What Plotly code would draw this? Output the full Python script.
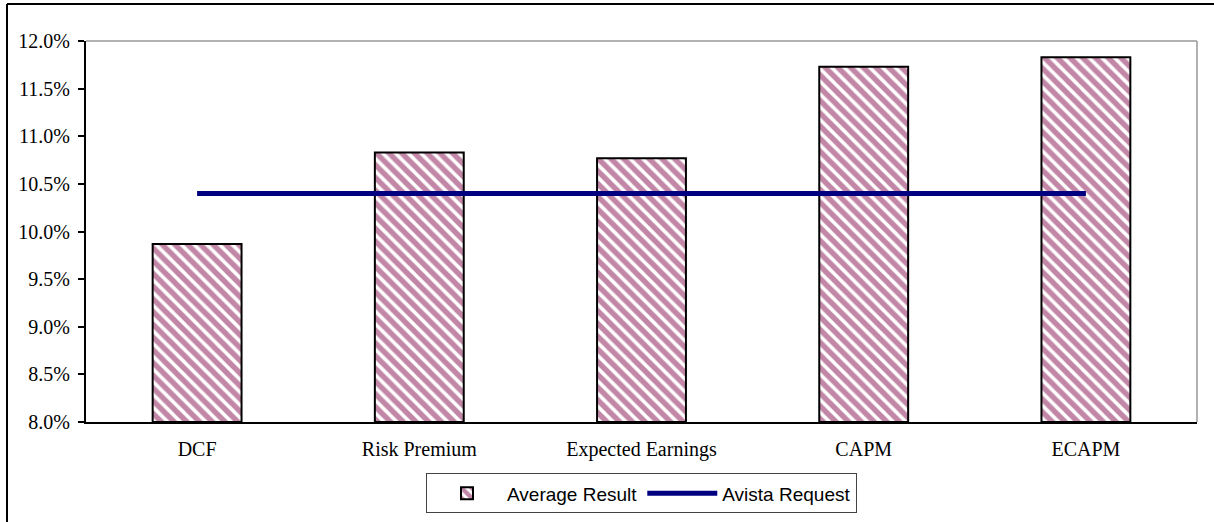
import plotly.graph_objects as go

categories = ["DCF", "Risk Premium", "Expected Earnings", "CAPM", "ECAPM"]
average_result = [9.87, 10.83, 10.77, 11.73, 11.83]
avista_request = [10.40, 10.40, 10.40, 10.40, 10.40]
y_ticks = [8.0, 8.5, 9.0, 9.5, 10.0, 10.5, 11.0, 11.5, 12.0]

W, H = 1214, 522
L, R, T, B = 86, 17, 41, 100
SERIF = "Liberation Serif, Times New Roman, serif"
SANS = "Liberation Sans, Arial, sans-serif"

fig = go.Figure()
fig.add_trace(go.Bar(
    x=categories, y=[v - 8.0 for v in average_result], base=8.0,
    name="Average Result",
    marker=dict(
        color="white",
        line=dict(color="black", width=2),
        pattern=dict(shape="\\", fgcolor="#85104f", bgcolor="white",
                     size=9, solidity=0.6, fillmode="overlay"),
    ),
    hovertemplate="%{x}: %{y:.2f}%<extra></extra>",
))
fig.add_trace(go.Scatter(
    x=categories, y=avista_request, mode="lines", name="Avista Request",
    line=dict(color="#000080", width=5),
))

fig.update_layout(
    width=W, height=H,
    margin=dict(l=L, r=R, t=T, b=B, autoexpand=False),
    paper_bgcolor="white", plot_bgcolor="white",
    bargap=0.6,
    showlegend=True,
    legend=dict(
        orientation="h", x=0.5, xanchor="center", y=-0.135, yanchor="top",
        font=dict(family=SANS, size=19, color="black"),
        bordercolor="#444", borderwidth=1, bgcolor="white",
        itemwidth=70, traceorder="normal",
    ),
    font=dict(family=SERIF, size=20, color="black"),
    xaxis=dict(
        showline=True, linecolor="black", linewidth=2, mirror=False,
        ticks="", showgrid=False, automargin=False,
        tickfont=dict(family=SERIF, size=20, color="black"),
        ticklabelstandoff=8,
    ),
    yaxis=dict(
        range=[8.0, 12.0], tickvals=y_ticks,
        ticktext=[f"{v:.1f}%" for v in y_ticks],
        showline=True, linecolor="black", linewidth=2,
        ticks="outside", ticklen=6, tickcolor="black", tickwidth=1.5,
        showgrid=False, zeroline=False, automargin=False,
        tickfont=dict(family=SERIF, size=20, color="black"),
        ticklabelstandoff=4,
    ),
    shapes=[
        # grey frame on the top and right of the plot area
        dict(type="line", xref="paper", yref="paper", x0=0, x1=1, y0=1, y1=1,
             line=dict(color="#999999", width=1.5)),
        dict(type="line", xref="paper", yref="paper", x0=1, x1=1, y0=0, y1=1,
             line=dict(color="#999999", width=1.5)),
        # outer chart border (top and left edges)
        dict(type="line", xref="paper", yref="paper",
             x0=(7 - L) / (W - L - R), x1=(W - L) / (W - L - R),
             y0=(H - 4 - B) / (H - T - B), y1=(H - 4 - B) / (H - T - B),
             line=dict(color="black", width=2)),
        dict(type="line", xref="paper", yref="paper",
             x0=(7 - L) / (W - L - R), x1=(7 - L) / (W - L - R),
             y0=(H - 4 - B) / (H - T - B), y1=-B / (H - T - B),
             line=dict(color="black", width=2)),
    ],
)

fig.write_html("out.html")
